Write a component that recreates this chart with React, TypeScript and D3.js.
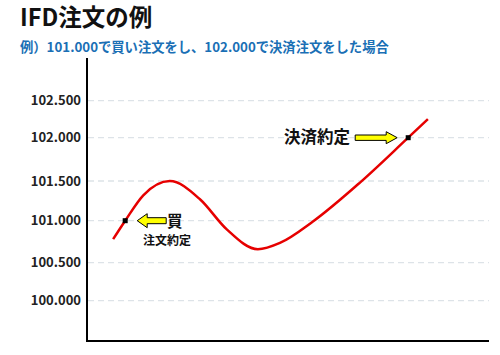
import React from "react";
import * as d3 from "d3";

const title = "IFD注文の例";
const subtitle = "例）101.000で買い注文をし、102.000で決済注文をした場合";

const yTicks = [100.0, 100.5, 101.0, 101.5, 102.0, 102.5];
const yTickLabels = ["100.000", "100.500", "101.000", "101.500", "102.000", "102.500"];

const times = [6.5, 9.5, 14, 20.6, 28.1, 34.7, 42.5, 48.0, 56.2, 67.9, 79.9, 84.8];
const prices = [100.78, 101.0, 101.32, 101.5, 101.27, 100.9, 100.66, 100.735, 100.99, 101.48, 102.0, 102.25];

const buyPoint = { t: 9.5, price: 101.0, label: "買", sub: "注文約定" };
const sellPoint = { t: 79.9, price: 102.0, label: "決済約定" };

const W = 500;
const H = 355;
const FONT = "'Noto Sans CJK JP', 'Noto Sans', sans-serif";

export default function App() {
  const x = d3.scaleLinear().domain([0, 100]).range([87, 489]);
  const y = d3
    .scaleLinear()
    .domain(yTicks)
    .range([300.7, 262.7, 220.7, 181, 137.7, 100.7]);

  const data = times.map((t, i) => ({ t, p: prices[i] }));
  const line = d3
    .line<{ t: number; p: number }>()
    .x((d) => x(d.t))
    .y((d) => y(d.p))
    .curve(d3.curveMonotoneX);

  const bx = x(buyPoint.t);
  const by = y(buyPoint.price);
  const sx = x(sellPoint.t);
  const sy = y(sellPoint.price);

  const la = { tip: bx + 12, tail: bx + 41, headBase: bx + 22, cy: by, hh: 7, sh: 3 };
  const leftArrow = `M${la.tip},${la.cy} L${la.headBase},${la.cy - la.hh} L${la.headBase},${la.cy - la.sh} L${la.tail},${la.cy - la.sh} L${la.tail},${la.cy + la.sh} L${la.headBase},${la.cy + la.sh} L${la.headBase},${la.cy + la.hh} Z`;
  const ra = { tip: sx - 11, tail: sx - 53, headBase: sx - 22, cy: sy, hh: 6, sh: 2.7 };
  const rightArrow = `M${ra.tip},${ra.cy} L${ra.headBase},${ra.cy - ra.hh} L${ra.headBase},${ra.cy - ra.sh} L${ra.tail},${ra.cy - ra.sh} L${ra.tail},${ra.cy + ra.sh} L${ra.headBase},${ra.cy + ra.sh} L${ra.headBase},${ra.cy + ra.hh} Z`;

  return (
    <svg
      width={W}
      height={H}
      style={{ position: "absolute", left: 0, top: 0, background: "#fff" }}
      fontFamily={FONT}
    >
      <rect x={0} y={0} width={W} height={H} fill="#fff" />
      <text x={20} y={26} fontSize={23.5} fontWeight="bold" fill="#111">
        {title}
      </text>
      <text x={20} y={52} fontSize={13.3} fontWeight="bold" fill="#1a6fb5">
        {subtitle}
      </text>

      {yTicks.map((v, i) => (
        <g key={v}>
          <line
            x1={88}
            x2={489}
            y1={y(v)}
            y2={y(v)}
            stroke="#dde3e8"
            strokeWidth={1.3}
            strokeDasharray="6,4"
          />
          <text
            x={81}
            y={y(v)}
            dy="0.35em"
            textAnchor="end"
            fontSize={13}
            fontWeight="bold"
            fill="#222"
          >
            {yTickLabels[i]}
          </text>
        </g>
      ))}

      <line x1={87} x2={87} y1={58} y2={342} stroke="#000" strokeWidth={2} />
      <line x1={86} x2={489} y1={341} y2={341} stroke="#000" strokeWidth={2} />

      <path d={line(data) || ""} fill="none" stroke="#e60000" strokeWidth={2.5} />

      <rect x={bx - 2.5} y={by - 2.5} width={5} height={5} fill="#000" />
      <rect x={sx - 2.5} y={sy - 2.5} width={5} height={5} fill="#000" />

      <path d={leftArrow} fill="#ffff00" stroke="#000" strokeWidth={1} />
      <text x={167} y={227} fontSize={15.5} fontWeight="bold" fill="#111">
        {buyPoint.label}
      </text>
      <text x={143} y={245} fontSize={12} fontWeight="bold" fill="#111">
        {buyPoint.sub}
      </text>

      <path d={rightArrow} fill="#ffff00" stroke="#000" strokeWidth={1} />
      <text x={284} y={143} fontSize={16.5} fontWeight="bold" fill="#111">
        {sellPoint.label}
      </text>
    </svg>
  );
}
